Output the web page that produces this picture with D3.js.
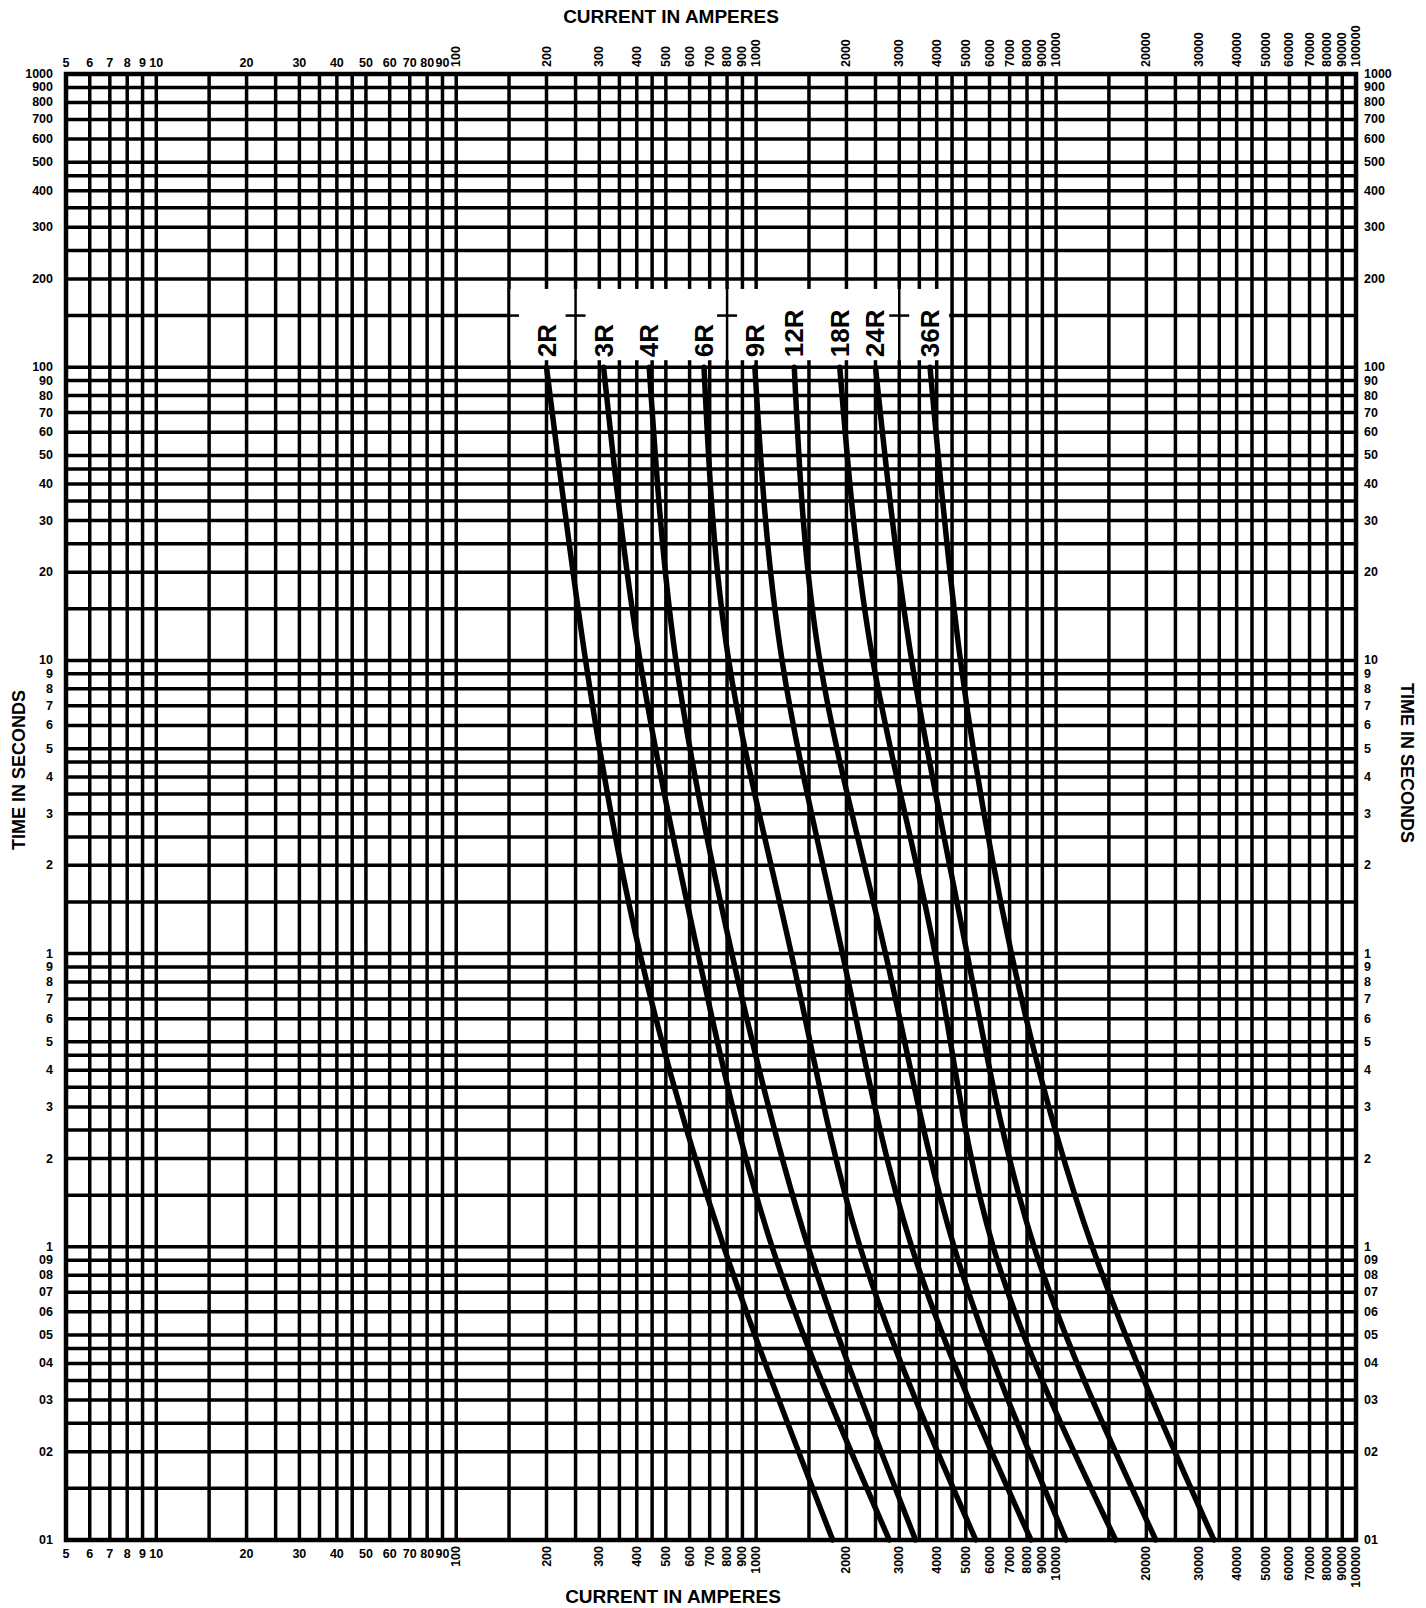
<!DOCTYPE html>
<html>
<head>
<meta charset="utf-8">
<title>Fuse time-current curves</title>
<style>
  body { margin: 0; background: #fff; }
  svg { display: block; }
  text { font-family: "Liberation Sans", Arial, sans-serif; font-weight: bold; fill: #000; }
</style>
</head>
<body>
<div id="chart"></div>
<script src="https://cdn.jsdelivr.net/npm/d3@7"></script>
<script>
'use strict';

const width = 1426;
const height = 1608;

// fuse ratings and the current (A) read at each time (s)
const fuseLabels = ["2R", "3R", "4R", "6R", "9R", "12R", "18R", "24R", "36R"];
const timePoints = [100, 10, 1, 0.1, 0.01];
const currentSeries = [
    [200, 270, 410, 780, 1800],
    [310, 410, 640, 1130, 2780],
    [440, 540, 830, 1490, 3400],
    [670, 810, 1310, 2220, 5400],
    [990, 1220, 1940, 3300, 8250],
    [1340, 1630, 2700, 4570, 10800],
    [1900, 2450, 3950, 6170, 15800],
    [2500, 3300, 5050, 8450, 21500],
    [3800, 4800, 7100, 13200, 33600]
];

// log paper rulings inside each decade
const gridSteps = [1, 1.5, 2, 2.5, 3, 3.5, 4, 4.5, 5, 6, 7, 8, 9];
const xDecades = [1, 10, 100, 1000, 10000];
const yDecades = [0.01, 0.1, 1, 10, 100];

const xTicks = [5, 6, 7, 8, 9, 10, 20, 30, 40, 50, 60, 70, 80, 90,
    100, 200, 300, 400, 500, 600, 700, 800, 900, 1000,
    2000, 3000, 4000, 5000, 6000, 7000, 8000, 9000, 10000,
    20000, 30000, 40000, 50000, 60000, 70000, 80000, 90000, 100000];
const yTicks = [1000, 900, 800, 700, 600, 500, 400, 300, 200,
    100, 90, 80, 70, 60, 50, 40, 30, 20,
    10, 9, 8, 7, 6, 5, 4, 3, 2,
    1, 0.9, 0.8, 0.7, 0.6, 0.5, 0.4, 0.3, 0.2,
    0.1, 0.09, 0.08, 0.07, 0.06, 0.05, 0.04, 0.03, 0.02, 0.01];
const yTickLabels = ["1000", "900", "800", "700", "600", "500", "400", "300", "200",
    "100", "90", "80", "70", "60", "50", "40", "30", "20",
    "10", "9", "8", "7", "6", "5", "4", "3", "2",
    "1", "9", "8", "7", "6", "5", "4", "3", "2",
    "1", "09", "08", "07", "06", "05", "04", "03", "02", "01"];

const svg = d3.select("#chart").append("svg")
    .attr("width", width)
    .attr("height", height);

const x = d3.scaleLog().domain([5, 100000]).range([66, 1356]);
const y = d3.scaleLog().domain([0.01, 1000]).range([1540, 74]);

const xGrid = xDecades.flatMap(d => gridSteps.map(s => +(d * s).toPrecision(6)))
    .filter(v => v >= 5).concat([100000]);
const yGrid = yDecades.flatMap(d => gridSteps.map(s => +(d * s).toPrecision(6)))
    .concat([1000]);

const grid = svg.append("g")
    .attr("stroke", "#000")
    .attr("stroke-width", 3.5);

grid.selectAll("line.v").data(xGrid).join("line")
    .attr("class", "v")
    .attr("x1", d => x(d)).attr("x2", d => x(d))
    .attr("y1", y(1000)).attr("y2", y(0.01));

grid.selectAll("line.h").data(yGrid).join("line")
    .attr("class", "h")
    .attr("x1", x(5)).attr("x2", x(100000))
    .attr("y1", d => y(d)).attr("y2", d => y(d));

svg.append("rect")
    .attr("x", x(5)).attr("y", y(1000))
    .attr("width", x(100000) - x(5)).attr("height", y(0.01) - y(1000))
    .attr("fill", "none").attr("stroke", "#000").attr("stroke-width", 4.5);

// white box that carries the fuse labels
const boxTop = y(200) + 10;
const boxBottom = y(100) - 7;
svg.append("rect")
    .attr("x", x(150) + 1).attr("y", boxTop)
    .attr("width", x(4400) - x(150) - 1).attr("height", boxBottom - boxTop)
    .attr("fill", "#fff");

const boxRules = [150, 250, 800, 3000];
const boxG = svg.append("g").attr("stroke", "#000").attr("stroke-width", 2.5);
boxG.selectAll("line.bv").data(boxRules).join("line")
    .attr("class", "bv")
    .attr("x1", d => x(d)).attr("x2", d => x(d))
    .attr("y1", boxTop - 2).attr("y2", boxBottom + 2);
boxG.selectAll("line.bh").data(boxRules).join("line")
    .attr("class", "bh")
    .attr("x1", d => x(d) - 10).attr("x2", d => x(d) + 10)
    .attr("y1", y(150)).attr("y2", y(150));

// curves
const line = d3.line()
    .x(d => x(d[0]))
    .y(d => y(d[1]))
    .curve(d3.curveNatural);

svg.append("g").selectAll("path").data(currentSeries).join("path")
    .attr("d", s => line(s.map((c, i) => [c, timePoints[i]])))
    .attr("fill", "none")
    .attr("stroke", "#000")
    .attr("stroke-width", 5.5)
    .attr("stroke-linecap", "round");

svg.append("g").selectAll("text").data(fuseLabels).join("text")
    .attr("transform", (d, i) => `translate(${x(currentSeries[i][0]) + 9},${boxBottom - 3}) rotate(-90)`)
    .attr("font-size", 26)
    .text(d => d);

// tick labels
const tickG = svg.append("g").attr("font-size", 12.5);
const xFlat = xTicks.filter(v => v < 100);
const xTurn = xTicks.filter(v => v >= 100);

tickG.selectAll("text.tf").data(xFlat).join("text")
    .attr("class", "tf")
    .attr("x", d => x(d)).attr("y", 67)
    .attr("text-anchor", "middle")
    .text(d => d);
tickG.selectAll("text.tr").data(xTurn).join("text")
    .attr("class", "tr")
    .attr("transform", d => `translate(${x(d) + 4},67) rotate(-90)`)
    .text(d => d);
tickG.selectAll("text.bf").data(xFlat).join("text")
    .attr("class", "bf")
    .attr("x", d => x(d)).attr("y", 1558)
    .attr("text-anchor", "middle")
    .text(d => d);
tickG.selectAll("text.br").data(xTurn).join("text")
    .attr("class", "br")
    .attr("transform", d => `translate(${x(d) + 4},1546) rotate(-90)`)
    .attr("text-anchor", "end")
    .text(d => d);

tickG.selectAll("text.yl").data(yTicks).join("text")
    .attr("class", "yl")
    .attr("x", 53).attr("y", d => y(d) + 4)
    .attr("text-anchor", "end")
    .text((d, i) => yTickLabels[i]);
tickG.selectAll("text.yr").data(yTicks).join("text")
    .attr("class", "yr")
    .attr("x", 1364).attr("y", d => y(d) + 4)
    .text((d, i) => yTickLabels[i]);

// axis titles
svg.append("text")
    .attr("x", 671).attr("y", 23)
    .attr("text-anchor", "middle").attr("font-size", 19)
    .text("CURRENT IN AMPERES");
svg.append("text")
    .attr("x", 673).attr("y", 1603)
    .attr("text-anchor", "middle").attr("font-size", 19)
    .text("CURRENT IN AMPERES");
svg.append("text")
    .attr("transform", "translate(25,770) rotate(-90)")
    .attr("text-anchor", "middle").attr("font-size", 18)
    .text("TIME IN SECONDS");
svg.append("text")
    .attr("transform", "translate(1401,763) rotate(90)")
    .attr("text-anchor", "middle").attr("font-size", 18)
    .text("TIME IN SECONDS");
</script>
</body>
</html>
